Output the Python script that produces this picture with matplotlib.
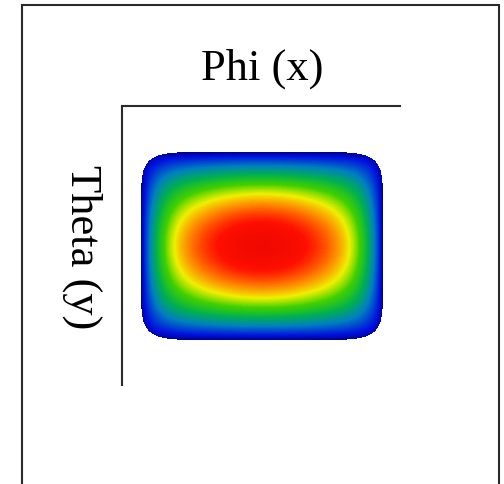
import numpy as np
import matplotlib
matplotlib.use("Agg")
import matplotlib.pyplot as plt
from matplotlib.patches import Rectangle
from matplotlib.colors import LinearSegmentedColormap

W, H = 504, 485

# angular grid (normalised phi / theta) and field shape parameters
phi = np.linspace(-1, 1, 244)
theta = np.linspace(-1, 1, 191)
phi_width = 2.0     # gaussian spread along phi (squared)
theta_width = 1.0   # gaussian spread along theta (squared)
phi_taper = 8.0     # edge taper exponent, phi
theta_taper = 6.0   # edge taper exponent, theta
mask_exp = 8.3      # superellipse exponent of the illuminated region
peak_level = 0.92   # where the maximum sits on the colormap

title_x = "Phi (x)"
title_y = "Theta (y)"

# jet-like map with a short cyan stretch
cmap_stops = [0.0, 0.1, 0.28, 0.42, 0.55, 0.66, 0.76, 0.86, 1.0]
cmap_colors = ["#000080", "#0010e0", "#0080c0", "#00b050", "#40d000",
               "#f0f000", "#ff8000", "#ff1000", "#e00000"]


def px(x, y):
    return x / W, 1 - y / H


P, T = np.meshgrid(phi, theta)
field = (np.exp(-(P ** 2 / phi_width + T ** 2 / theta_width))
         * (1 - np.abs(P) ** phi_taper) * (1 - np.abs(T) ** theta_taper))
inside = np.abs(P) ** mask_exp + np.abs(T) ** mask_exp <= 0.97
field = np.ma.masked_where(~inside, field)

cmap = LinearSegmentedColormap.from_list("beam", list(zip(cmap_stops, cmap_colors)))

fig = plt.figure(figsize=(W / 100, H / 100), dpi=100)
fig.patch.set_facecolor("white")

# outer frame
fig.patches.append(Rectangle(px(22, 490), (499 - 22) / W, (490 - 6) / H,
                             transform=fig.transFigure, fill=False,
                             edgecolor="#2a2a2a", linewidth=1.5))

x0, y0 = px(122, 386)
ax = fig.add_axes([x0, y0, (400 - 122) / W, (386 - 107) / H])
ax.imshow(field, cmap=cmap, vmin=0, vmax=1 / peak_level,
          extent=(-1, 1, 1, -1), interpolation="nearest", aspect="auto")
ax.set_xlim(-1.148, 1.14)
ax.set_ylim(1.463, -1.474)
for side in ["right", "bottom"]:
    ax.spines[side].set_visible(False)
for side in ["left", "top"]:
    ax.spines[side].set_linewidth(1.5)
    ax.spines[side].set_color("#2a2a2a")
ax.set_xticks([])
ax.set_yticks([])

fig.text(*px(262, 80), title_x, family="Liberation Serif", fontsize=32,
         ha="center", va="baseline")
fig.text(*px(82, 247), title_y, family="Liberation Serif", fontsize=32,
         ha="center", va="center", rotation=-90)

fig.savefig("out.png", dpi=100)
